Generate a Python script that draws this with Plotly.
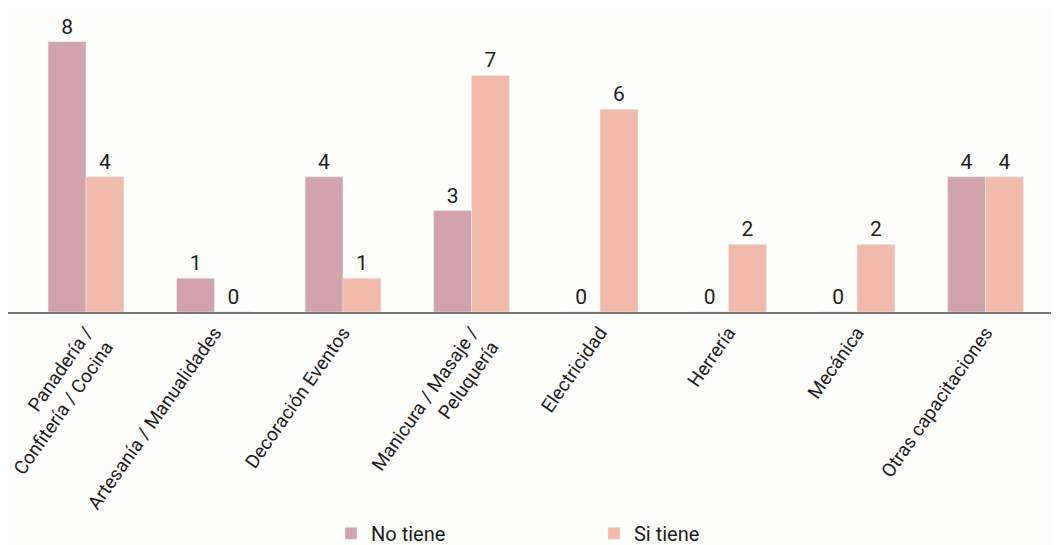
import plotly.graph_objects as go

categories = ["Panadería /<br>Confitería / Cocina", "Artesanía / Manualidades", "Decoración Eventos",
              "Manicura / Masaje /<br>Peluquería", "Electricidad", "Herrería", "Mecánica",
              "Otras capacitaciones"]
no_tiene = [8, 1, 4, 3, 0, 0, 0, 4]
si_tiene = [4, 0, 1, 7, 6, 2, 2, 4]

FONT = "Roboto, sans-serif"

fig = go.Figure()
fig.add_trace(go.Bar(name="No tiene", x=categories, y=no_tiene, marker_color="#D1A3AA",
                     text=no_tiene, textposition="outside", cliponaxis=False,
                     textfont=dict(size=21, color="#1E1E1E", family=FONT)))
fig.add_trace(go.Bar(name="Si tiene", x=categories, y=si_tiene, marker_color="#F0BBAB",
                     text=si_tiene, textposition="outside", cliponaxis=False,
                     textfont=dict(size=21, color="#1E1E1E", family=FONT)))

fig.update_layout(
    width=1059, height=545,
    margin=dict(l=0, r=0, t=0, b=238),
    paper_bgcolor="#FDFDFC", plot_bgcolor="#FDFDFC",
    barmode="group", bargap=0.41, bargroupgap=0,
    font=dict(family=FONT, size=19, color="#1E1E1E"),
    showlegend=True,
    legend=dict(orientation="h", x=0.305, xanchor="left", y=-0.728, yanchor="middle",
                entrywidth=218, entrywidthmode="pixels", font=dict(size=20),
                bgcolor="rgba(0,0,0,0)"),
)
fig.update_xaxes(type="category", range=[-0.607, 7.634], showline=True, linecolor="#77777A",
                 linewidth=2, tickangle=-55, ticks="", showgrid=False, automargin=False,
                 tickfont=dict(size=19, color="#1E1E1E"))
fig.update_yaxes(range=[0, 8.996], visible=False, showgrid=False, automargin=False)

fig.write_html("out.html")
